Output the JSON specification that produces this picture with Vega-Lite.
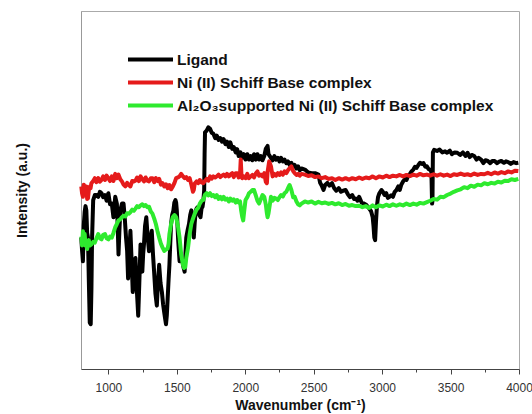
{
  "$schema": "https://vega.github.io/schema/vega-lite/v6.json",
  "width": 438,
  "height": 358,
  "autosize": "none",
  "padding": {"left": 81, "top": 11, "right": 13, "bottom": 45},
  "background": "white",
  "config": {
    "view": {"stroke": "#aaa", "strokeWidth": 1},
    "font": "Liberation Sans"
  },
  "datasets": {
    "L": [
      [802,36.7],[808,33],[814,30.1],[820,40],[827,44],[833,45.5],[839,44.3],[845,38],[851,36.7],[857,25],[864,13.0],[871,12.5],[876,22],[881,36.7],[889,47.2],[901,48.6],[913,48.6],[926,48.1],[938,49.5],[950,49.1],[962,48],[975,48.6],[987,47],[1000,49.1],[1012,46],[1025,46.2],[1037,42.4],[1050,48.1],[1062,46.2],[1068,40],[1074,32.0],[1080,38],[1087,44.3],[1099,46.2],[1111,46.2],[1120,42],[1129,36.7],[1137,33],[1144,25.3],[1152,32],[1161,38.6],[1170,30],[1178,21.5],[1188,28],[1198,31.0],[1208,22],[1218,14.9],[1226,24],[1235,34.8],[1242,30],[1248,27.2],[1254,32],[1260,34.8],[1268,40],[1277,42.4],[1287,37],[1297,32.9],[1307,36],[1317,38.6],[1326,32],[1334,27.2],[1344,21],[1354,17.7],[1362,24],[1371,29.1],[1381,24],[1391,21.5],[1400,18],[1408,15.8],[1415,14],[1421,12.5],[1427,15],[1433,19.6],[1440,25],[1446,29.1],[1452,35],[1458,40.5],[1466,43],[1475,44.3],[1482,46.5],[1490,47.2],[1495,46.5],[1500,44.3],[1510,36],[1520,30.1],[1530,31],[1540,30.1],[1550,28.2],[1557,27.2],[1563,32],[1569,36.7],[1580,39],[1589,40.5],[1598,43],[1606,44.3],[1615,40],[1624,36.7],[1631,41],[1639,44.3],[1647,45],[1656,45.3],[1665,43],[1673,42.4],[1681,45],[1688,45.3],[1694,47],[1700,50.0],[1703,60],[1706,66.1],[1718,66.6],[1730,67.5],[1743,67.1],[1755,66],[1767,65.7],[1780,64.5],[1792,65.2],[1805,64],[1818,64.5],[1830,63.5],[1842,64.2],[1855,62.8],[1867,63.5],[1880,62],[1891,63.3],[1905,61.5],[1916,62],[1930,60.5],[1941,61.4],[1952,59.5],[1965,60.5],[1978,59],[1990,60.0],[2002,58.5],[2015,60],[2027,58.5],[2040,59.5],[2052,58.3],[2064,60.0],[2077,58.5],[2089,60.0],[2101,58.5],[2114,59.5],[2126,58.3],[2139,59.5],[2150,61.5],[2163,62.3],[2170,60],[2188,59.0],[2200,58.3],[2213,59.5],[2225,58.5],[2238,59.0],[2250,58],[2262,59],[2275,58],[2287,58.5],[2300,57.5],[2312,58],[2324,57.0],[2337,57.6],[2350,56.5],[2361,57],[2374,56],[2386,56.6],[2398,55.5],[2411,56],[2436,55.7],[2460,54.9],[2485,54.7],[2510,54.7],[2535,54.3],[2547,52],[2559,51.2],[2572,50],[2584,51.4],[2600,52],[2615,51.2],[2634,51.9],[2650,50.5],[2665,49.8],[2683,50.5],[2700,49.5],[2715,49.8],[2733,50.0],[2750,48.8],[2765,48],[2782,48.6],[2795,47.5],[2807,47.6],[2820,47],[2832,48.1],[2850,46.5],[2869,46.2],[2885,45.8],[2906,44.8],[2920,44],[2931,42.4],[2937,40],[2943,36.7],[2949,36],[2955,41],[2962,45.5],[2970,48],[2980,49.1],[2995,50],[3005,49.5],[3018,48.6],[3030,49.1],[3042,47.8],[3054,48.1],[3066,48.5],[3079,48.1],[3092,49.5],[3105,50],[3118,51],[3129,50.0],[3140,51.5],[3155,52.5],[3167,53],[3178,52.8],[3190,54],[3203,54.5],[3215,55.2],[3228,55.7],[3240,56.5],[3252,56.2],[3265,57],[3277,57.6],[3290,57.3],[3302,57.5],[3315,56.5],[3327,56.6],[3340,55.8],[3351,55.7],[3360,55],[3365,46.2],[3368,47],[3371,60.5],[3380,61.2],[3401,60.9],[3420,61.3],[3440,60.5],[3460,60.8],[3475,60.4],[3495,61],[3510,60],[3530,60.5],[3549,60.4],[3570,59.8],[3590,60.5],[3610,59.5],[3624,60.4],[3640,59.2],[3655,59.8],[3673,59.5],[3690,58.5],[3705,59],[3723,58.5],[3740,57.5],[3755,58.3],[3772,58.1],[3790,57.5],[3805,58.1],[3822,58.1],[3840,57.5],[3855,57.9],[3871,58.1],[3890,57.6],[3905,58],[3921,57.8],[3940,57.3],[3960,57.8],[3980,57.5],[3995,57.6]
    ],
    "N": [
      [802,51],[808,49],[814,48.1],[820,51.5],[827,50.9],[833,49],[839,51],[845,47.5],[851,47.7],[857,50],[864,51],[870,50.5],[876,51.9],[889,52.5],[901,53.3],[913,52.2],[926,53.3],[938,52.3],[950,52.8],[962,53.8],[975,52.8],[987,54],[1000,53.3],[1012,52.5],[1025,53.8],[1037,52.5],[1050,54.5],[1062,53.3],[1074,54.3],[1087,53],[1099,52.4],[1111,51.5],[1124,51],[1137,52],[1149,51.4],[1161,51],[1174,52.5],[1186,52.4],[1198,52.6],[1210,53.5],[1223,52.5],[1235,53.8],[1248,53],[1260,52.4],[1272,53.5],[1285,52.6],[1297,52.4],[1310,53.3],[1322,53.3],[1335,52.2],[1347,53.3],[1360,52.5],[1371,53.1],[1384,51.5],[1396,51.9],[1408,51],[1421,51.6],[1433,50.5],[1446,51.4],[1458,50.2],[1470,50.9],[1483,52],[1495,53.3],[1508,53.5],[1520,53.8],[1532,54.5],[1545,53.8],[1557,53.3],[1569,53.6],[1582,52.8],[1594,53.3],[1606,51.5],[1618,49.5],[1624,50],[1631,51.8],[1644,52.4],[1656,51.9],[1668,52.8],[1681,52.1],[1693,51.9],[1705,52.5],[1718,53.1],[1730,52.6],[1743,53.8],[1755,53.2],[1767,53.8],[1780,53.5],[1792,53.8],[1805,54.3],[1818,53.6],[1830,54],[1842,54.3],[1855,53.8],[1867,54.5],[1880,53.8],[1891,54.3],[1905,54.7],[1916,53.6],[1930,54.7],[1941,54.7],[1952,53.5],[1962,54.5],[1967,58.5],[1972,54.5],[1978,53.3],[1990,53.8],[2002,53.3],[2015,54.5],[2027,53.3],[2040,53.8],[2052,54.2],[2064,53.5],[2077,54.6],[2089,55.2],[2101,54],[2114,54.3],[2126,53.8],[2139,54.7],[2150,52.3],[2158,51.9],[2163,55],[2175,58],[2188,56.6],[2200,53.8],[2213,54.5],[2225,54],[2238,54.7],[2250,54.2],[2262,54.9],[2275,54.3],[2287,55.2],[2300,54.7],[2312,55.5],[2324,56.1],[2337,56.6],[2350,55.3],[2361,54.7],[2374,54.2],[2386,54.5],[2398,54],[2411,54.5],[2436,54.3],[2460,53.9],[2485,54.1],[2510,53.6],[2535,53.8],[2559,53.3],[2584,53.6],[2609,53.1],[2634,53.3],[2658,52.8],[2683,53.3],[2708,52.9],[2733,53.3],[2758,52.9],[2782,53.3],[2807,53],[2832,53.5],[2856,53.1],[2881,53.5],[2906,53.3],[2931,53.8],[2955,53.3],[2980,53.8],[3005,53.5],[3030,54],[3054,53.6],[3079,54],[3104,53.8],[3129,54.2],[3153,53.8],[3178,54.2],[3203,53.9],[3228,54.3],[3252,54],[3277,54.5],[3302,54.1],[3327,54.3],[3351,54],[3376,54.4],[3401,54],[3426,54.4],[3450,54],[3475,54.3],[3500,53.9],[3524,54.4],[3549,54.2],[3574,54.6],[3599,54.2],[3624,54.4],[3648,54.1],[3673,54.6],[3698,54.2],[3723,54.5],[3747,54.4],[3772,54.8],[3797,54.4],[3822,54.9],[3846,54.6],[3871,55],[3896,54.7],[3921,55.2],[3945,54.9],[3970,55.4],[3995,55.3]
    ],
    "A": [
      [802,37],[808,34.5],[814,38.5],[820,36],[827,37.7],[833,34.5],[839,35.8],[845,33.5],[851,34.8],[857,36],[864,34.5],[876,34.8],[889,35.5],[901,35.3],[913,36.5],[926,37.7],[938,36.5],[950,36.2],[962,37.5],[975,37.7],[987,36.5],[1000,36.2],[1012,37],[1025,36.7],[1037,38],[1050,39.6],[1062,40.5],[1074,41.5],[1087,41.8],[1099,42.4],[1111,42.8],[1124,42.6],[1137,43.5],[1149,43.4],[1161,43.8],[1174,44.5],[1186,44.2],[1198,44.8],[1210,45.5],[1223,45.2],[1235,45.7],[1248,46],[1260,45.5],[1272,45.8],[1285,45.2],[1297,45.3],[1310,44],[1322,43.4],[1335,42],[1347,40.5],[1359,38.5],[1371,36.7],[1384,35],[1396,33.9],[1408,33],[1421,33.4],[1433,33.6],[1440,35],[1446,37.7],[1458,40.5],[1470,42.4],[1483,43],[1495,42.4],[1508,40],[1520,36.7],[1532,32],[1545,29.1],[1552,28.2],[1562,28.5],[1569,31],[1582,33.9],[1594,37.7],[1606,40.5],[1618,42],[1631,43.4],[1644,44.5],[1656,45],[1668,46.2],[1681,47],[1693,47.2],[1705,48.6],[1718,49.1],[1730,48.5],[1743,49.1],[1755,48.3],[1767,48.6],[1780,48],[1792,48.6],[1805,47.5],[1818,48.1],[1830,47.4],[1842,48.1],[1855,47.3],[1867,47.6],[1880,46.8],[1891,47.6],[1905,47],[1916,47.4],[1930,46.5],[1941,47.2],[1952,46.5],[1962,46.8],[1970,44.3],[1978,42.5],[1985,41.5],[1992,44],[2002,47.2],[2015,48],[2027,49.1],[2040,49.5],[2052,50],[2064,50.0],[2077,48.5],[2089,47],[2101,46.2],[2114,47.5],[2126,48.6],[2139,48.1],[2150,46],[2158,43.5],[2163,42.4],[2170,43.5],[2180,46],[2188,48.1],[2200,47],[2213,47.8],[2225,47.6],[2238,47.2],[2250,48],[2262,48.6],[2275,48.2],[2287,49.1],[2300,49.5],[2312,50.5],[2324,51.4],[2337,50],[2350,48],[2361,48.1],[2374,46.8],[2386,46],[2398,45.7],[2411,46.2],[2436,46.8],[2460,46.5],[2485,46.8],[2510,46.2],[2535,46.7],[2559,46.3],[2584,46.5],[2609,46.1],[2634,46.4],[2658,46.0],[2683,46.3],[2708,45.8],[2733,46.1],[2758,45.6],[2782,45.8],[2807,45.5],[2832,45.6],[2856,45.2],[2881,45.5],[2906,45.0],[2931,45.7],[2955,45.2],[2980,45.7],[3005,45.4],[3030,45.9],[3054,45.5],[3079,46.0],[3104,45.6],[3129,46.0],[3153,45.7],[3178,46.2],[3203,45.8],[3228,46.2],[3252,45.9],[3277,46.4],[3302,46.2],[3327,46.6],[3351,47],[3376,47.5],[3401,47.3],[3426,48.1],[3450,48],[3475,48.6],[3500,49],[3524,49.5],[3549,49.9],[3574,50.2],[3599,50.8],[3624,50.5],[3648,51.2],[3673,50.9],[3698,51.5],[3723,51.3],[3747,51.9],[3772,51.6],[3797,52],[3822,51.8],[3846,52.3],[3871,52.1],[3896,52.6],[3921,52.5],[3945,53],[3970,52.8],[3995,53.1]
    ]
  },
  "layer": [
    {
      "data": {"name": "L"},
      "transform": [{"calculate": "'Ligand'", "as": "s"}, {"calculate": "datum[0]", "as": "w"}, {"calculate": "datum[1]", "as": "v"}],
      "mark": {"type": "line", "strokeWidth": 4, "strokeJoin": "round"},
      "encoding": {
        "x": {"field": "w", "type": "quantitative"},
        "y": {"field": "v", "type": "quantitative"},
        "color": {"field": "s", "type": "nominal"}
      }
    },
    {
      "data": {"name": "N"},
      "transform": [{"calculate": "'Ni (II) Schiff Base complex'", "as": "s"}, {"calculate": "datum[0]", "as": "w"}, {"calculate": "datum[1]", "as": "v"}],
      "mark": {"type": "line", "strokeWidth": 4, "strokeJoin": "round"},
      "encoding": {
        "x": {"field": "w", "type": "quantitative"},
        "y": {"field": "v", "type": "quantitative"},
        "color": {"field": "s", "type": "nominal"}
      }
    },
    {
      "data": {"name": "A"},
      "transform": [{"calculate": "'Al₂O₃supported Ni (II) Schiff Base complex'", "as": "s"}, {"calculate": "datum[0]", "as": "w"}, {"calculate": "datum[1]", "as": "v"}],
      "mark": {"type": "line", "strokeWidth": 4, "strokeJoin": "round"},
      "encoding": {
        "x": {"field": "w", "type": "quantitative"},
        "y": {"field": "v", "type": "quantitative"},
        "color": {"field": "s", "type": "nominal"}
      }
    }
  ],
  "encoding": {
    "x": {
      "field": "w", "type": "quantitative",
      "scale": {"domain": [800, 4000], "nice": false, "zero": false},
      "axis": {
        "title": "Wavenumber (cm⁻¹)",
        "values": [1000, 1250, 1500, 1750, 2000, 2250, 2500, 2750, 3000, 3250, 3500, 3750, 4000],
        "format": "d",
        "labelExpr": "datum.value % 500 === 0 ? datum.label : ''",
        "labelFlush": false,
        "labelOverlap": false,
        "grid": false,
        "tickSize": {"condition": {"test": "datum.value % 500 === 0", "value": 5}, "value": 3},
        "domainColor": "#444",
        "tickColor": "#444",
        "labelFont": "Liberation Sans",
        "labelFontSize": 12,
        "labelColor": "#333",
        "labelPadding": 8,
        "titleFont": "Liberation Sans",
        "titleFontSize": 14,
        "titleFontWeight": "bold",
        "titleColor": "#111",
        "titlePadding": 5
      }
    },
    "y": {
      "field": "v", "type": "quantitative",
      "scale": {"domain": [0, 100], "nice": false, "zero": false},
      "axis": {
        "title": "Intensity (a.u.)",
        "ticks": false,
        "labels": false,
        "grid": false,
        "domainColor": "#999",
        "titleFont": "Liberation Sans",
        "titleFontSize": 14,
        "titleFontWeight": "bold",
        "titleColor": "#111",
        "titlePadding": 52
      }
    },
    "color": {
      "field": "s", "type": "nominal",
      "scale": {
        "domain": ["Ligand", "Ni (II) Schiff Base complex", "Al₂O₃supported Ni (II) Schiff Base complex"],
        "range": ["#000000", "#e51b1b", "#2eea2e"]
      },
      "legend": {
        "title": null,
        "orient": "none",
        "legendX": 60,
        "legendY": 39,
        "padding": 0,
        "symbolType": "M-3,0H3",
        "symbolSize": 225,
        "symbolStrokeWidth": 4,
        "labelOffset": 17,
        "rowPadding": 5,
        "labelFont": "Liberation Sans",
        "labelFontSize": 15.5,
        "labelFontWeight": "bold",
        "labelColor": "#111",
        "labelLimit": 420
      }
    }
  }
}
